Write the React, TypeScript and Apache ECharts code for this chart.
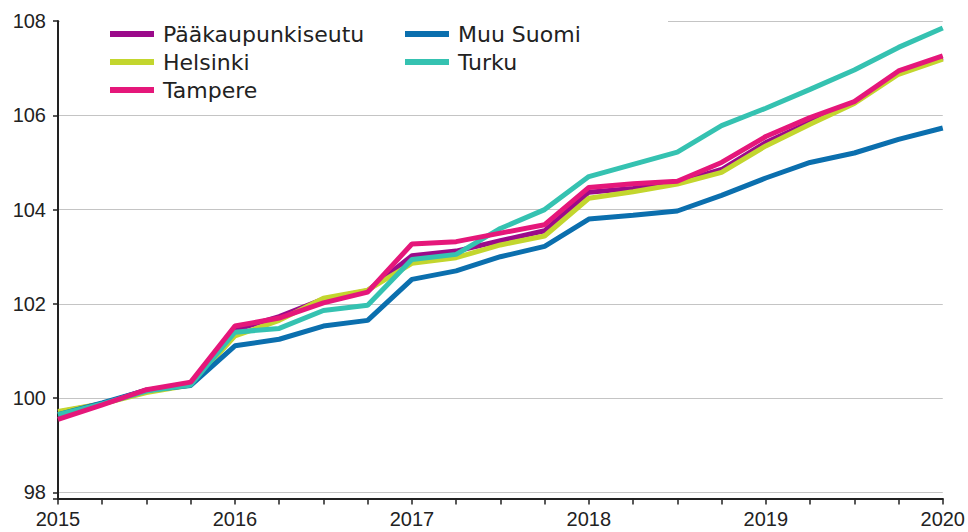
import React, { useEffect, useRef } from "react";
import * as echarts from "echarts";

const quarters = [
  "2015Q1", "2015Q2", "2015Q3", "2015Q4",
  "2016Q1", "2016Q2", "2016Q3", "2016Q4",
  "2017Q1", "2017Q2", "2017Q3", "2017Q4",
  "2018Q1", "2018Q2", "2018Q3", "2018Q4",
  "2019Q1", "2019Q2", "2019Q3", "2019Q4",
  "2020Q1",
];

const paakaupunkiseutu = [99.7, 99.88, 100.17, 100.3, 101.45, 101.73, 102.1, 102.28, 103.02, 103.12, 103.34, 103.55, 104.37, 104.45, 104.57, 104.85, 105.42, 105.85, 106.27, 106.9, 107.22];
const helsinki = [99.72, 99.88, 100.12, 100.28, 101.32, 101.65, 102.12, 102.29, 102.86, 102.98, 103.25, 103.44, 104.24, 104.38, 104.54, 104.79, 105.35, 105.81, 106.25, 106.87, 107.19];
const tampere = [99.55, 99.86, 100.18, 100.34, 101.53, 101.7, 102.02, 102.25, 103.27, 103.32, 103.5, 103.68, 104.47, 104.55, 104.6, 105.0, 105.55, 105.95, 106.29, 106.94, 107.26];
const muuSuomi = [99.65, 99.9, 100.17, 100.27, 101.11, 101.25, 101.53, 101.65, 102.52, 102.7, 103.0, 103.22, 103.8, 103.88, 103.97, 104.3, 104.67, 105.0, 105.2, 105.49, 105.73];
const turku = [99.65, 99.88, 100.15, 100.28, 101.4, 101.48, 101.86, 101.97, 102.94, 103.05, 103.6, 104.0, 104.7, 104.96, 105.22, 105.78, 106.15, 106.55, 106.96, 107.44, 107.85];

const yTickLabels = ["98", "100", "102", "104", "106", "108"];

const COLORS: Record<string, string> = {
  "Pääkaupunkiseutu": "#9b0a8a",
  "Helsinki": "#c3d62e",
  "Tampere": "#e5177a",
  "Muu Suomi": "#0b6fae",
  "Turku": "#35c2b1",
};

export default function App() {
  const ref = useRef<HTMLDivElement>(null);
  useEffect(() => {
    if (!ref.current) return;
    const chart = echarts.init(ref.current, null, { renderer: "svg" });
    const mk = (name: string, data: number[]) => ({
      name,
      type: "line",
      data,
      showSymbol: false,
      symbol: "none",
      lineStyle: { width: 5, color: COLORS[name] },
      itemStyle: { color: COLORS[name] },
    });
    const legendText = {
      fontFamily: "DejaVu Sans",
      fontSize: 22,
      color: "#222",
      lineHeight: 22,
      padding: [0, 0, 0, 4],
    };
    chart.setOption({
      animation: false,
      backgroundColor: "#fff",
      grid: { left: 58, right: 25, top: 21, bottom: 33.4, containLabel: false },
      legend: [
        {
          data: ["Pääkaupunkiseutu", "Helsinki", "Tampere"],
          orient: "vertical",
          left: 110,
          top: 23,
          padding: 0,
          itemGap: 6,
          itemWidth: 44,
          itemHeight: 6,
          icon: "rect",
          textStyle: legendText,
        },
        {
          data: ["Muu Suomi", "Turku"],
          orient: "vertical",
          left: 405,
          top: 23,
          padding: 0,
          itemGap: 6,
          itemWidth: 44,
          itemHeight: 6,
          icon: "rect",
          textStyle: legendText,
        },
      ],
      graphic: [
        {
          type: "rect",
          z: 1,
          shape: { x: 60, y: 14, width: 608, height: 14 },
          style: { fill: "#fff" },
        },
      ],
      xAxis: {
        type: "category",
        data: quarters,
        boundaryGap: false,
        axisLine: { lineStyle: { color: "#222", width: 2 } },
        axisTick: { interval: 0, length: 6, lineStyle: { color: "#222", width: 1.5 } },
        axisLabel: {
          interval: 3,
          margin: 10,
          fontFamily: "Liberation Sans",
          fontSize: 20,
          color: "#222",
          formatter: (v: string) => v.slice(0, 4),
        },
        splitLine: { show: false },
      },
      yAxis: {
        type: "value",
        min: 97.87,
        max: 108,
        splitNumber: 5,
        axisLine: { show: true, lineStyle: { color: "#222", width: 2 } },
        axisTick: { show: true, length: 5, lineStyle: { color: "#222", width: 1.5 } },
        axisLabel: {
          margin: 12,
          fontFamily: "Liberation Sans",
          fontSize: 20,
          color: "#222",
          formatter: (v: number) => {
            const s = String(Math.round(v));
            return Math.abs(v - Math.round(v)) < 1e-6 && yTickLabels.includes(s) ? s : "";
          },
        },
        splitLine: { lineStyle: { color: "#c4c4c4", width: 1.2 } },
      },
      series: [
        mk("Pääkaupunkiseutu", paakaupunkiseutu),
        mk("Helsinki", helsinki),
        mk("Muu Suomi", muuSuomi),
        mk("Turku", turku),
        mk("Tampere", tampere),
      ],
    });
    return () => chart.dispose();
  }, []);
  return (
    <div
      ref={ref}
      style={{ position: "fixed", left: 0, top: 0, width: 968, height: 532, background: "#fff" }}
    />
  );
}
